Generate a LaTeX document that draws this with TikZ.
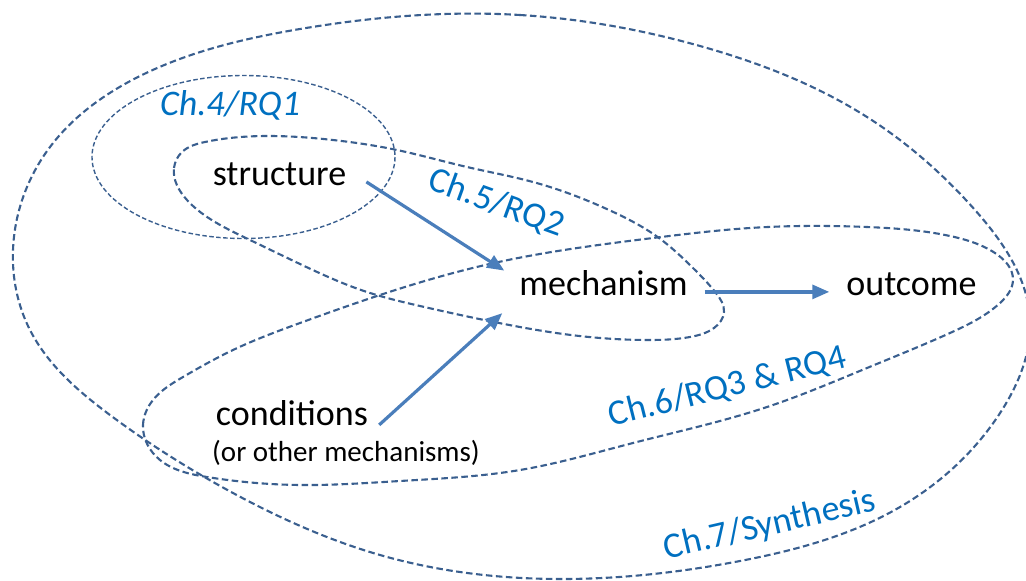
\documentclass[tikz,border=0pt]{standalone}
\usepackage{fontspec}
\setmainfont{Carlito}
\usetikzlibrary{arrows.meta,hobby}
\definecolor{rim}{HTML}{3A5F8F}
\definecolor{flow}{HTML}{4A7EBB}
\definecolor{tag}{HTML}{0070C0}
\begin{document}
\begin{tikzpicture}[x=1pt,y=-1pt,
  zone/.style={draw=rim,line width=2.1pt,dash pattern=on 6.5pt off 3.5pt},
  thinzone/.style={draw=rim,line width=1.4pt,dash pattern=on 4.5pt off 2.5pt},
  term/.style={font=\fontsize{36}{40}\selectfont,inner sep=0pt,anchor=base,
    text height=0.62em,text depth=0pt},
  note/.style={font=\fontsize{29}{32}\selectfont,inner sep=0pt,anchor=base},
  chtag/.style={font=\fontsize{36}{40}\selectfont,text=tag,inner sep=0pt,anchor=base},
  flowline/.style={draw=flow,line width=3.2pt,-{Triangle[length=17pt,width=14pt]}}
]
\useasboundingbox (0,0) rectangle (1026,581);
\clip (0,0) rectangle (1026,581);

% Ch.7: the outermost region
\draw[zone] plot[closed hobby] coordinates {
  (520,15) (700,46) (867,117) (975,210) (1030,320) (1002,410) (900,507)
  (740,561) (560,579) (380,555) (233,493) (110,415) (30,330) (13,250)
  (50,147) (140,76) (300,29)};

% Ch.4: structure
\draw[thinzone] (243.5,157) ellipse [x radius=151.5,y radius=81.5];

% Ch.5: structure -> mechanism
\draw[zone] plot[closed hobby] coordinates {
  (174,168) (182,152) (205,142) (267,136) (333,140) (397,150) (467,167)
  (533,182) (609,210) (659,238) (693,268) (716,293) (724,312) (714,328)
  (690,337) (647,340) (571,335) (494,322) (420,306) (367,292) (300,264)
  (250,240) (215,222) (187,200)};

% Ch.6: conditions, mechanism, outcome
\draw[zone] plot[closed hobby] coordinates {
  (143,425) (153,400) (183,377) (233,350) (300,323) (380,295) (494,263)
  (653,238) (750,228) (867,227) (950,236) (995,253) (1013,280)
  (1000,303) (950,333) (867,368) (767,407) (633,443) (520,470)
  (400,481) (300,485) (207,477) (160,460)};

% terms
\node[term] (struct) at (279.5,185) {structure};
\node[term] (mech) at (603.5,295) {mechanism};
\node[term] (outc) at (911.5,295) {outcome};
\node[term] (cond) at (292,425) {conditions};
\node[note] (other) at (346,461) {(or other mechanisms)};

% chapter tags
\node[chtag,font=\fontsize{36}{40}\selectfont\itshape] (t4) at (230,115) {Ch.4/RQ1};
\node[chtag,rotate=-20] (t5) at (493,213) {Ch.5/RQ2};
\node[chtag,rotate=14] (t6) at (730,397) {Ch.6/RQ3 \& RQ4};
\node[chtag,rotate=13] (t7) at (772,535) {Ch.7/Synthesis};

% causal arrows
\draw[flowline] ([shift={(20,0)}]struct.east) -- ([shift={(-15,-18)}]mech.north west);
\draw[flowline] ([shift={(11,3)}]cond.east) -- ([shift={(-17,18)}]mech.south west);
\draw[flowline] ([shift={(17,0)}]mech.east) -- ([shift={(-17,0)}]outc.west);
\end{tikzpicture}
\end{document}
